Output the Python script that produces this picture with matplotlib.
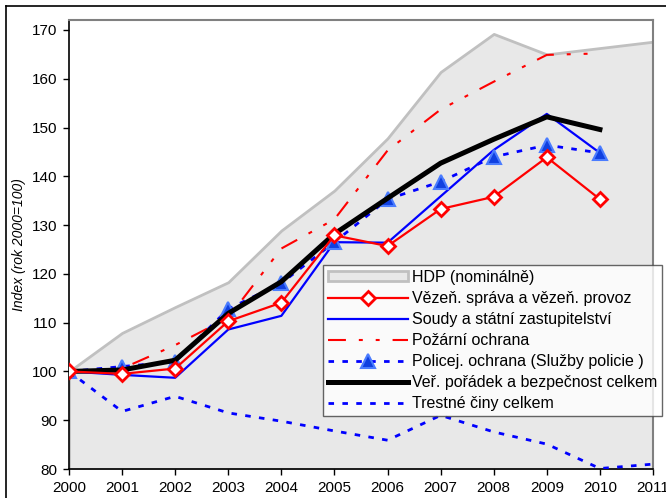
import matplotlib.pyplot as plt
from matplotlib.lines import Line2D
import numpy as np

plt.rcParams['font.family'] = ['Liberation Sans', 'DejaVu Sans']

years = list(range(2000, 2012))
years10 = years[:11]

hdp = [100, 107.9, 113.2, 118.3, 128.9, 137.1, 147.8, 161.4, 169.2, 165.0, 166.3, 167.6]
vezen = [100, 99.5, 100.6, 110.3, 114.1, 127.9, 125.7, 133.3, 135.8, 143.9, 135.3]
soudy = [100, 99.3, 98.7, 108.6, 111.4, 126.5, 126.4, 135.9, 145.4, 152.8, 144.8]
pozarni = [100, 100.6, 105.4, 111.0, 125.2, 131.2, 145.3, 153.7, 159.4, 164.9, 165.2]
policie = [100, 101.0, 102.0, 112.8, 118.1, 126.5, 135.3, 138.9, 144.0, 146.4, 144.8]
celkem = [100, 100.3, 102.3, 111.9, 118.4, 128.2, 135.5, 142.7, 147.6, 152.2, 149.6]
trestne = [100, 91.8, 94.9, 91.5, 89.8, 87.8, 85.9, 91.0, 87.6, 85.1, 80.1, 81.0]

labels = ['HDP (nominálně)', 'Vězeň. správa a vězeň. provoz',
          'Soudy a státní zastupitelství', 'Požární ochrana',
          'Policej. ochrana (Služby policie )',
          'Veř. pořádek a bezpečnost celkem', 'Trestné činy celkem']

fig = plt.figure(figsize=(6.66, 4.98), dpi=100)
ax = fig.add_axes([69 / 666, 1 - 469 / 498, 584 / 666, 449 / 498])

ax.fill_between(years, 80, hdp, facecolor='#e8e8e8', edgecolor='#c0c0c0',
                linewidth=2, label=labels[0], zorder=1)
ax.plot(years10, soudy, color='#0000ff', lw=1.6, label=labels[2], zorder=3)
ax.plot(years10, pozarni, color='#ff0000', lw=1.5,
        dashes=(8.6, 6.2, 1.9, 6.2, 1.9, 6.2), label=labels[3], zorder=3)
ax.plot(years10, policie, color='#0000ff', lw=2, dashes=(2, 3),
        marker='^', ms=10, mfc='#1040e0', mec='#4a7cff', mew=1.5,
        label=labels[4], zorder=4)
ax.plot(years10, celkem, color='black', lw=3.6, label=labels[5], zorder=5)
ax.plot(years, trestne, color='#0000ff', lw=2, dashes=(2, 3),
        label=labels[6], zorder=3)
ax.plot(years10, vezen, color='#ff0000', lw=1.6, marker='D', ms=7.5,
        mfc='white', mec='#ff0000', mew=2, label=labels[1], zorder=6)

ax.set_xlim(2000, 2011)
ax.set_ylim(80, 172.05)
ax.set_xticks(years)
ax.set_yticks(range(80, 171, 10))
ax.tick_params(axis='both', direction='out', length=4.5, width=1,
               labelsize=11, pad=4)
for s in ['left', 'bottom']:
    ax.spines[s].set_color('black')
    ax.spines[s].set_linewidth(1.2)
for s in ['top', 'right']:
    ax.spines[s].set_color('#808080')
    ax.spines[s].set_linewidth(1.5)
ax.set_ylabel('Index (rok 2000=100)', fontsize=10, style='italic', labelpad=4)

h, l = ax.get_legend_handles_labels()
order = [labels.index(x) for x in l]
pairs = sorted(zip(order, h, l))
leg = fig.legend([p[1] for p in pairs], [p[2] for p in pairs],
                 loc='upper left', bbox_to_anchor=(323 / 666, 1 - 265 / 498),
                 fontsize=11.5, frameon=True, fancybox=False, borderaxespad=0,
                 handlelength=5.0, handleheight=0.55, handletextpad=0.3,
                 labelspacing=0.38, borderpad=0.3)
leg.get_frame().set_edgecolor('#404040')
leg.get_frame().set_linewidth(1)
leg.set_zorder(10)

# outer frame and cropped title
fig.add_artist(Line2D([6 / 666, 6 / 666], [0, 1 - 6.5 / 498], color='black', lw=1.2))
fig.add_artist(Line2D([6 / 666, 1], [1 - 6.5 / 498, 1 - 6.5 / 498], color='black', lw=1.2))
fig.text(0.59, 1 + 3 / 498, 'Vývoj výdajů na veřejný pořádek a bezpečnost (2000=100)',
         ha='center', va='baseline', fontsize=12, fontweight='bold')

fig.savefig('out.png', dpi=100)
